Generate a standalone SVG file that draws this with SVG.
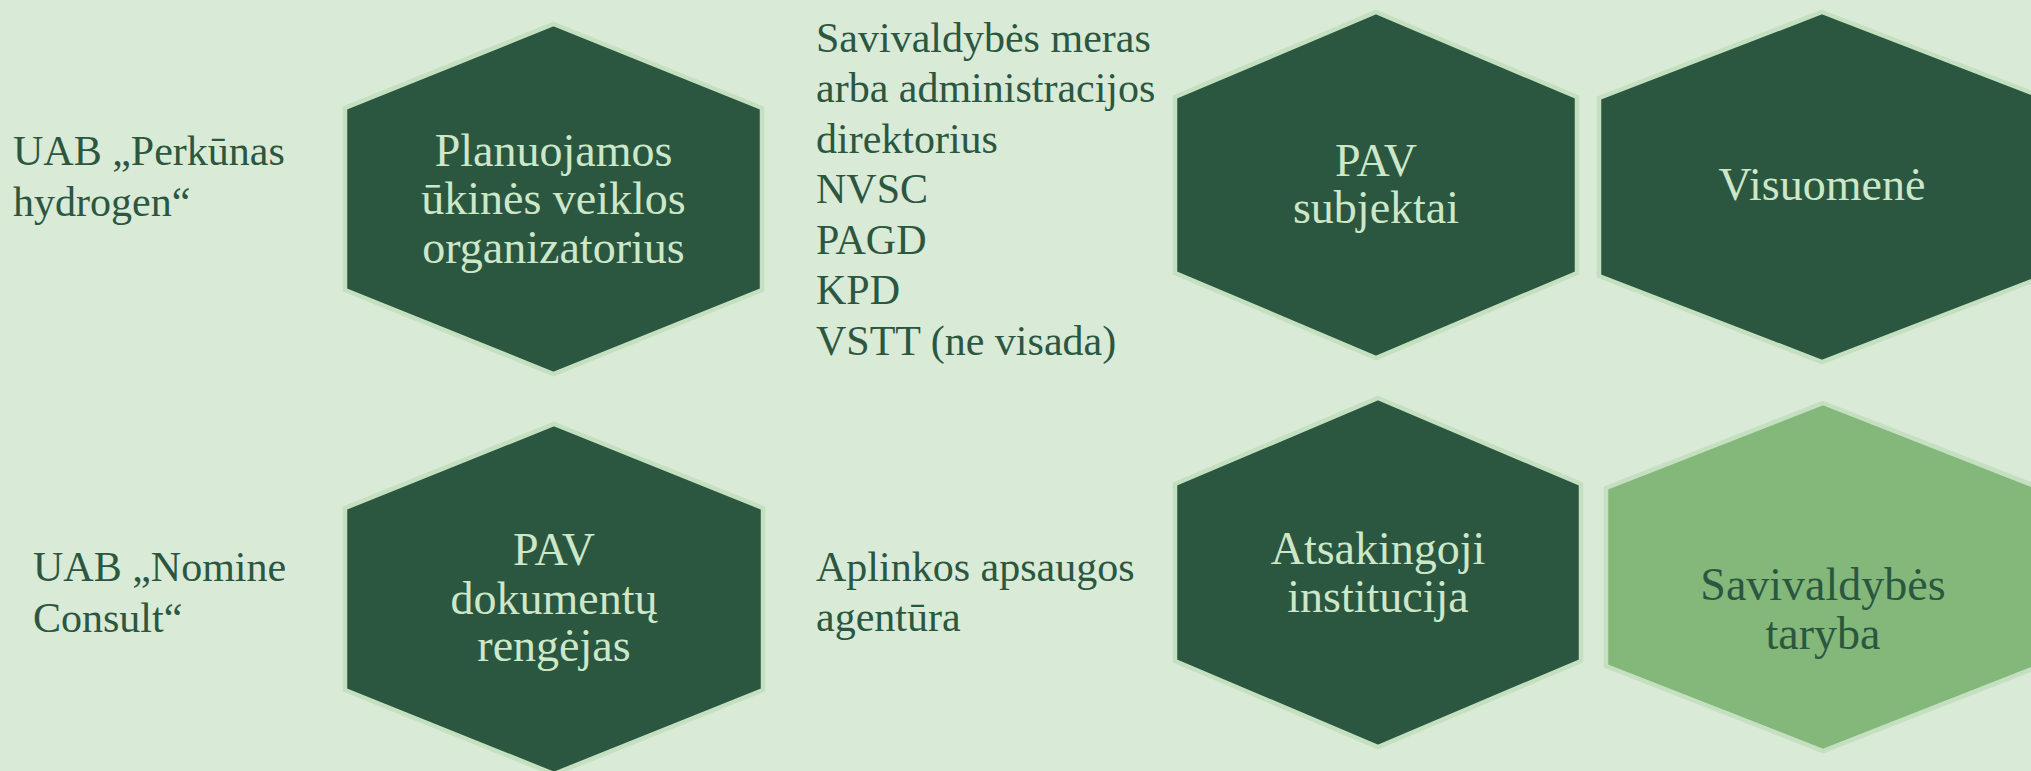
<svg xmlns="http://www.w3.org/2000/svg" width="2031" height="771" viewBox="0 0 2031 771">
<style>
.bg{fill:#d9ead7}
.hex{fill:#2b5741;stroke:#c4e0c0;stroke-width:4.5;stroke-linejoin:miter}
.hexl{fill:#83b87a;stroke:#c4e0c0;stroke-width:4.5}
.t{font-family:"Liberation Serif","Times New Roman",serif;font-size:42px;fill:#2b5741}
.ht{font-family:"Liberation Serif","Times New Roman",serif;font-size:46px;fill:#cde7c9;text-anchor:middle}
.htd{font-family:"Liberation Serif","Times New Roman",serif;font-size:46px;fill:#2b5741;text-anchor:middle}
</style>
<rect class="bg" x="0" y="0" width="2031" height="771"/>
<g id="connectors"/>
<g id="label-perkunas">
<text class="t" x="13" y="165">UAB „Perkūnas</text>
<text class="t" x="13" y="216">hydrogen“</text>
</g>
<g id="node-organizatorius">
<polygon class="hex" points="553.5,24 762,108 762,290 553.5,374 345,290 345,108"/>
<text class="ht" x="553.5" y="166">Planuojamos</text>
<text class="ht" x="553.5" y="214">ūkinės veiklos</text>
<text class="ht" x="553.5" y="263">organizatorius</text>
</g>
<g id="label-subjektai-list">
<text class="t" x="816" y="51.5">Savivaldybės meras</text>
<text class="t" x="816" y="102">arba administracijos</text>
<text class="t" x="816" y="152.5">direktorius</text>
<text class="t" x="816" y="203">NVSC</text>
<text class="t" x="816" y="253.5">PAGD</text>
<text class="t" x="816" y="304">KPD</text>
<text class="t" x="816" y="355">VSTT (ne visada)</text>
</g>
<g id="node-subjektai">
<polygon class="hex" points="1376,12 1577,97 1577,273 1376,358 1175,273 1175,97"/>
<text class="ht" x="1376" y="176">PAV</text>
<text class="ht" x="1376" y="223">subjektai</text>
</g>
<g id="node-visuomene">
<polygon class="hex" points="1822,12 2045,98 2045,276 1822,362 1599,276 1599,98"/>
<text class="ht" x="1822" y="200">Visuomenė</text>
</g>
<g id="label-nomine">
<text class="t" x="33" y="581">UAB „Nomine</text>
<text class="t" x="33" y="632">Consult“</text>
</g>
<g id="node-rengejas">
<polygon class="hex" points="554,424 763,508 763,690 554,774 345,690 345,508"/>
<text class="ht" x="554" y="565">PAV</text>
<text class="ht" x="554" y="614">dokumentų</text>
<text class="ht" x="554" y="661">rengėjas</text>
</g>
<g id="label-aaa">
<text class="t" x="816" y="581">Aplinkos apsaugos</text>
<text class="t" x="816" y="631">agentūra</text>
</g>
<g id="node-institucija">
<polygon class="hex" points="1378,398 1581,484 1581,661 1378,747 1175,661 1175,484"/>
<text class="ht" x="1378" y="564">Atsakingoji</text>
<text class="ht" x="1378" y="612">institucija</text>
</g>
<g id="node-taryba">
<polygon class="hexl" points="1823,403 2040,488 2040,666 1823,751 1606,666 1606,488"/>
<text class="htd" x="1823" y="600">Savivaldybės</text>
<text class="htd" x="1823" y="649">taryba</text>
</g>
</svg>
